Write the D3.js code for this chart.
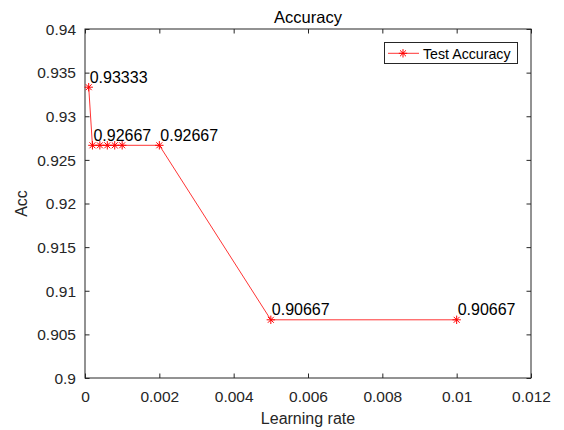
<!DOCTYPE html>
<html>
<head>
<meta charset="utf-8">
<script src="https://cdn.jsdelivr.net/npm/d3@7"></script>
<style>
  body { margin: 0; background: #fff; }
  svg { display: block; font-family: "Liberation Sans", Arial, sans-serif; }
</style>
</head>
<body>
<svg id="chart" width="564" height="430"></svg>
<script>
const learningRates = [0.0001, 0.0002, 0.0004, 0.0006, 0.0008, 0.001, 0.002, 0.005, 0.01];
const accuracy = [0.93333, 0.92667, 0.92667, 0.92667, 0.92667, 0.92667, 0.92667, 0.90667, 0.90667];
const labelIndices = [0, 1, 6, 7, 8];
const xTicks = [0, 0.002, 0.004, 0.006, 0.008, 0.01, 0.012];
const yTicks = [0.9, 0.905, 0.91, 0.915, 0.92, 0.925, 0.93, 0.935, 0.94];
const seriesName = "Test Accuracy";

const svg = d3.select("#chart");
const m = { left: 85, right: 531, top: 29, bottom: 378 };
const axisColor = "#262626";
const x = d3.scaleLinear().domain([0, 0.012]).range([m.left, m.right]);
const y = d3.scaleLinear().domain([0.9, 0.94]).range([m.bottom, m.top]);
const tickLen = 4.5;

// Axes box
svg.append("rect")
  .attr("x", m.left).attr("y", m.top)
  .attr("width", m.right - m.left).attr("height", m.bottom - m.top)
  .attr("fill", "none").attr("stroke", axisColor).attr("stroke-width", 1);

const fmt = d => String(+d.toFixed(4));

// Bottom axis
const xb = svg.append("g").attr("transform", `translate(0,${m.bottom})`)
  .call(d3.axisBottom(x).tickValues(xTicks).tickSize(-tickLen).tickPadding(13).tickFormat(fmt));
// Top axis (ticks only)
const xt = svg.append("g").attr("transform", `translate(0,${m.top})`)
  .call(d3.axisTop(x).tickValues(xTicks).tickSize(-tickLen).tickFormat(""));
// Left axis
const yl = svg.append("g").attr("transform", `translate(${m.left},0)`)
  .call(d3.axisLeft(y).tickValues(yTicks).tickSize(-tickLen).tickPadding(9).tickFormat(fmt));
// Right axis
const yr = svg.append("g").attr("transform", `translate(${m.right},0)`)
  .call(d3.axisRight(y).tickValues(yTicks).tickSize(-tickLen).tickFormat(""));

[xb, xt, yl, yr].forEach(g => {
  g.select(".domain").remove();
  g.selectAll(".tick line").attr("stroke", axisColor).attr("stroke-width", 1);
  g.selectAll(".tick text").attr("fill", axisColor)
    .style("font-size", "15.5px").style("font-family", '"Liberation Sans", Arial, sans-serif');
});
yl.selectAll(".tick text").attr("dy", "0.34em");

// Title
svg.append("text").attr("x", (m.left + m.right) / 2).attr("y", 23)
  .attr("text-anchor", "middle").attr("fill", "#000")
  .style("font-size", "16.5px").text("Accuracy");

// X label
svg.append("text").attr("x", (m.left + m.right) / 2).attr("y", 424)
  .attr("text-anchor", "middle").attr("fill", axisColor)
  .style("font-size", "16px").text("Learning rate");

// Y label
svg.append("text")
  .attr("transform", `translate(27,${(m.top + m.bottom) / 2}) rotate(-90)`)
  .attr("text-anchor", "middle").attr("fill", axisColor)
  .style("font-size", "16px").text("Acc");

// Line
const data = learningRates.map((lr, i) => ({ lr, acc: accuracy[i] }));
svg.append("path").datum(data)
  .attr("fill", "none").attr("stroke", "#ff0000").attr("stroke-width", 0.8)
  .attr("d", d3.line().x(d => x(d.lr)).y(d => y(d.acc)));

// Asterisk markers
function asterisk(g, cx, cy, r) {
  const d = r * 0.7071;
  const p = `M${cx - r},${cy}L${cx + r},${cy}M${cx},${cy - r}L${cx},${cy + r}` +
            `M${cx - d},${cy - d}L${cx + d},${cy + d}M${cx - d},${cy + d}L${cx + d},${cy - d}`;
  g.append("path").attr("d", p).attr("stroke", "#ff0000").attr("stroke-width", 1).attr("fill", "none");
}
const mk = svg.append("g");
data.forEach(d => asterisk(mk, x(d.lr), y(d.acc), 4.2));

// Data labels
svg.append("g").selectAll("text").data(labelIndices.map(i => data[i])).join("text")
  .attr("x", d => x(d.lr) + 1)
  .attr("y", d => y(d.acc) - 4.5)
  .attr("fill", "#000")
  .style("font-size", "16px")
  .text(d => d.acc.toFixed(5));

// Legend
const lg = svg.append("g");
lg.append("rect").attr("x", 384.5).attr("y", 42.5).attr("width", 133).attr("height", 21)
  .attr("fill", "#fff").attr("stroke", axisColor).attr("stroke-width", 1);
lg.append("line").attr("x1", 388).attr("x2", 419).attr("y1", 53.3).attr("y2", 53.3)
  .attr("stroke", "#ff0000").attr("stroke-width", 0.8);
asterisk(lg, 403, 53.3, 4.2);
lg.append("text").attr("x", 423).attr("y", 58.5).attr("fill", "#000")
  .style("font-size", "14.2px").text(seriesName);
</script>
</body>
</html>
